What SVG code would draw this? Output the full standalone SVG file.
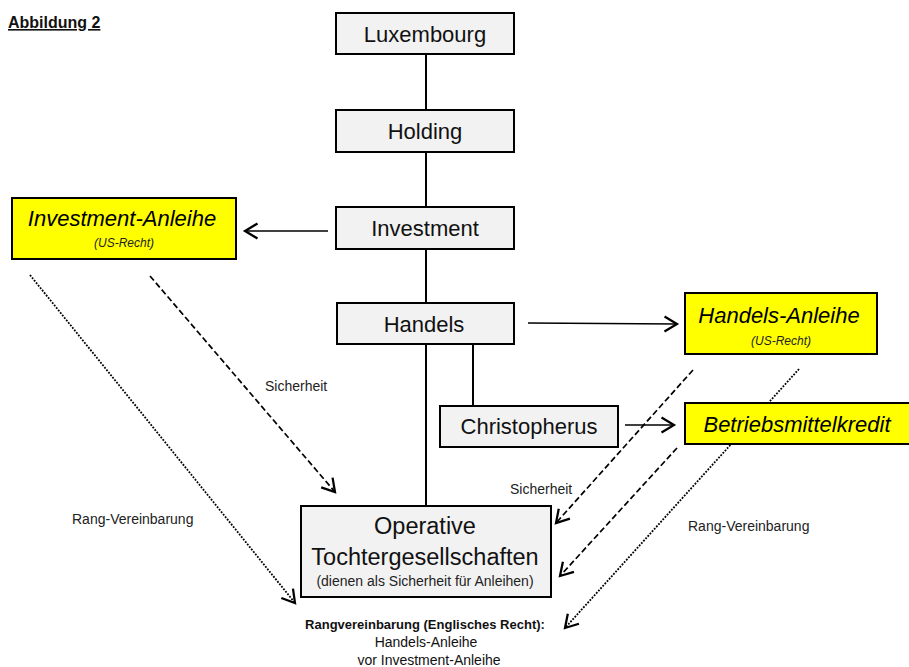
<svg xmlns="http://www.w3.org/2000/svg" width="909" height="667" viewBox="0 0 909 667">
  <defs>
    <style>
      .box { fill: #f2f2f2; stroke: #000; stroke-width: 2; }
      .loan { fill: #ffff00; stroke: #000; stroke-width: 2; }
      .lbl { font-family: "Liberation Sans", Arial, sans-serif; font-size: 22px; fill: #111; text-anchor: middle; }
      .big { font-size: 23.5px; }
      .small { font-size: 14px; fill: #222; }
      .loanlbl { font-family: "Liberation Sans", Arial, sans-serif; font-size: 22px; font-style: italic; fill: #000; text-anchor: middle; }
      .sub { font-family: "Liberation Sans", Arial, sans-serif; font-size: 12px; font-style: italic; fill: #222; text-anchor: middle; }
      .note { font-family: "Liberation Sans", Arial, sans-serif; font-size: 14px; fill: #222; }
      .foot { font-family: "Liberation Sans", Arial, sans-serif; font-size: 14px; fill: #111; text-anchor: middle; }
      .link { stroke: #000; stroke-width: 2; fill: none; }
      .arrow { stroke: #000; stroke-width: 1.6; fill: none; }
      .dash { stroke: #000; stroke-width: 1.7; fill: none; stroke-dasharray: 6 3; }
      .dot { stroke: #000; stroke-width: 1.8; fill: none; stroke-dasharray: 1.8 1.4; }
    </style>
    <marker id="head" markerUnits="userSpaceOnUse" markerWidth="20" markerHeight="20" refX="0" refY="0" viewBox="-12 -8 14 16" orient="auto">
      <path d="M-10,-6 L0,0 L-10,6" fill="none" stroke="#000" stroke-width="1.8" stroke-dasharray="none"/>
    </marker>
  </defs>

  <rect width="909" height="667" fill="#fff"/>

  <!-- title -->
  <text x="8" y="28" font-family="'Liberation Sans', Arial, sans-serif" font-size="16" font-weight="bold" fill="#111" text-decoration="underline">Abbildung 2</text>

  <!-- connectors -->
  <g id="connectors">
    <line class="link" x1="426" y1="54" x2="426" y2="110"/>
    <line class="link" x1="426" y1="152" x2="426" y2="207"/>
    <line class="link" x1="426" y1="249" x2="426" y2="303"/>
    <line class="link" x1="426" y1="344" x2="426" y2="506"/>
    <line class="link" x1="473" y1="344" x2="473" y2="406"/>

    <line class="arrow" x1="328" y1="231" x2="245" y2="231" marker-end="url(#head)"/>
    <line class="arrow" x1="528" y1="323" x2="677" y2="324" marker-end="url(#head)"/>
    <line class="arrow" x1="625" y1="425" x2="674" y2="425" marker-end="url(#head)"/>

    <line class="dash" x1="150" y1="276" x2="335" y2="492" marker-end="url(#head)"/>
    <line class="dot" x1="30" y1="275" x2="295" y2="603" marker-end="url(#head)"/>
    <line class="dash" x1="693" y1="370" x2="556" y2="523" marker-end="url(#head)"/>
    <line class="dash" x1="677" y1="448" x2="560" y2="576" marker-end="url(#head)"/>
    <line class="dot" x1="799" y1="369" x2="565" y2="628" marker-end="url(#head)"/>

    <text class="note" x="265" y="391">Sicherheit</text>
    <text class="note" x="72" y="524">Rang-Vereinbarung</text>
    <text class="note" x="510" y="494">Sicherheit</text>
    <text class="note" x="688" y="531">Rang-Vereinbarung</text>
  </g>

  <g id="luxembourg">
    <rect class="box" x="336" y="13" width="178" height="41"/>
    <text class="lbl" x="425" y="42">Luxembourg</text>
  </g>

  <g id="holding">
    <rect class="box" x="336" y="110" width="178" height="42"/>
    <text class="lbl" x="425" y="139">Holding</text>
  </g>

  <g id="investment">
    <rect class="box" x="336" y="207" width="178" height="42"/>
    <text class="lbl" x="425" y="236">Investment</text>
  </g>

  <g id="handels">
    <rect class="box" x="337" y="303" width="177" height="41"/>
    <text class="lbl" x="424" y="332">Handels</text>
  </g>

  <g id="christopherus">
    <rect class="box" x="440" y="406" width="178" height="41"/>
    <text class="lbl" x="529" y="434">Christopherus</text>
  </g>

  <g id="investment-anleihe">
    <rect class="loan" x="12" y="198" width="224" height="61"/>
    <text class="loanlbl" x="122" y="226">Investment-Anleihe</text>
    <text class="sub" x="124" y="247">(US-Recht)</text>
  </g>

  <g id="handels-anleihe">
    <rect class="loan" x="685" y="293" width="192" height="61"/>
    <text class="loanlbl" x="779" y="323">Handels-Anleihe</text>
    <text class="sub" x="781" y="345">(US-Recht)</text>
  </g>

  <g id="betriebsmittelkredit">
    <rect class="loan" x="685" y="403" width="230" height="41"/>
    <text class="loanlbl" x="797" y="432">Betriebsmittelkredit</text>
  </g>

  <g id="operative">
    <rect class="box" x="301" y="506" width="250" height="91"/>
    <text class="lbl big" x="425" y="534">Operative</text>
    <text class="lbl big" x="425" y="565">Tochtergesellschaften</text>
    <text class="lbl small" x="425" y="586">(dienen als Sicherheit für Anleihen)</text>
  </g>

  <g id="rangvereinbarung">
    <text class="foot" x="425" y="629" style="font-size:13px;font-weight:bold">Rangvereinbarung (Englisches Recht):</text>
    <text class="foot" x="426" y="647">Handels-Anleihe</text>
    <text class="foot" x="429" y="665">vor Investment-Anleihe</text>
  </g>
</svg>
